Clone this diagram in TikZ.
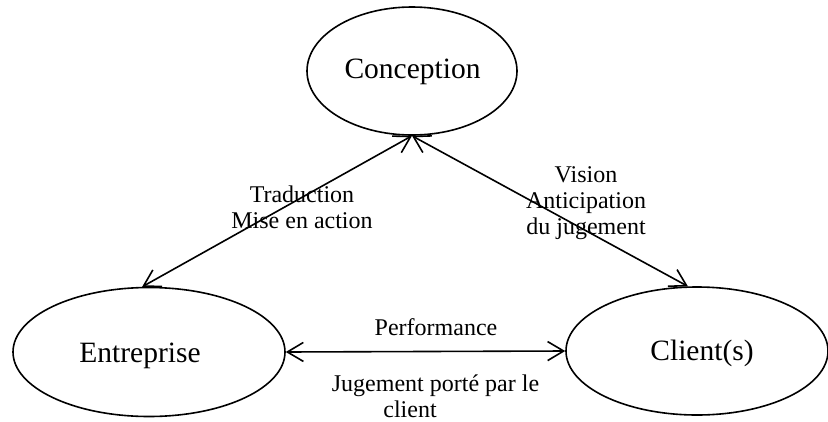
\documentclass[tikz,border=0pt]{standalone}
\usepackage{fontspec}
\setmainfont{Liberation Serif}
\usetikzlibrary{shapes.geometric,arrows.meta}
\begin{document}
\begin{tikzpicture}[x=1pt,y=-1pt,
 oval/.style={draw, ellipse, line width=1.6pt, inner sep=0pt},
 big/.style={inner sep=0pt, font=\fontsize{29.5}{34}\selectfont},
 lbl/.style={inner sep=0pt, anchor=base, font=\fontsize{24}{27}\selectfont},
 link/.style={line width=1.6pt, {Straight Barb[length=16pt,width=19pt]}-{Straight Barb[length=16pt,width=19pt]}}]
\useasboundingbox (0,0) rectangle (828,421);
\node[oval, minimum width=210pt, minimum height=128pt] (con) at (412,71) {};
\node[oval, minimum width=272pt, minimum height=129pt] (ent) at (149,352) {};
\node[oval, minimum width=262pt, minimum height=128pt] (cli) at (697,351) {};
\node[big] (conT) at (412.5,72) {Conception};
\node[big] (entT) at (140,356) {Entreprise};
\node[big] (cliT) at (702,353) {Client(s)};
\draw[link] (con.south) -- (ent.96);
\draw[link] (con.south) -- (cli.98);
\draw[link] (ent.east) -- (cli.west);
\node[lbl] (t1) at (302,202) {Traduction};
\node[lbl] (t2) at (302,228) {Mise en action};
\node[lbl] (v1) at (586,182) {Vision};
\node[lbl] (v2) at (586,208) {Anticipation};
\node[lbl] (v3) at (586,234) {du jugement};
\node[lbl] (p1) at (436,335) {Performance};
\node[lbl] (j1) at (435.5,391) {Jugement porté par le};
\node[lbl] (j2) at (410,417) {client};
\end{tikzpicture}
\end{document}
